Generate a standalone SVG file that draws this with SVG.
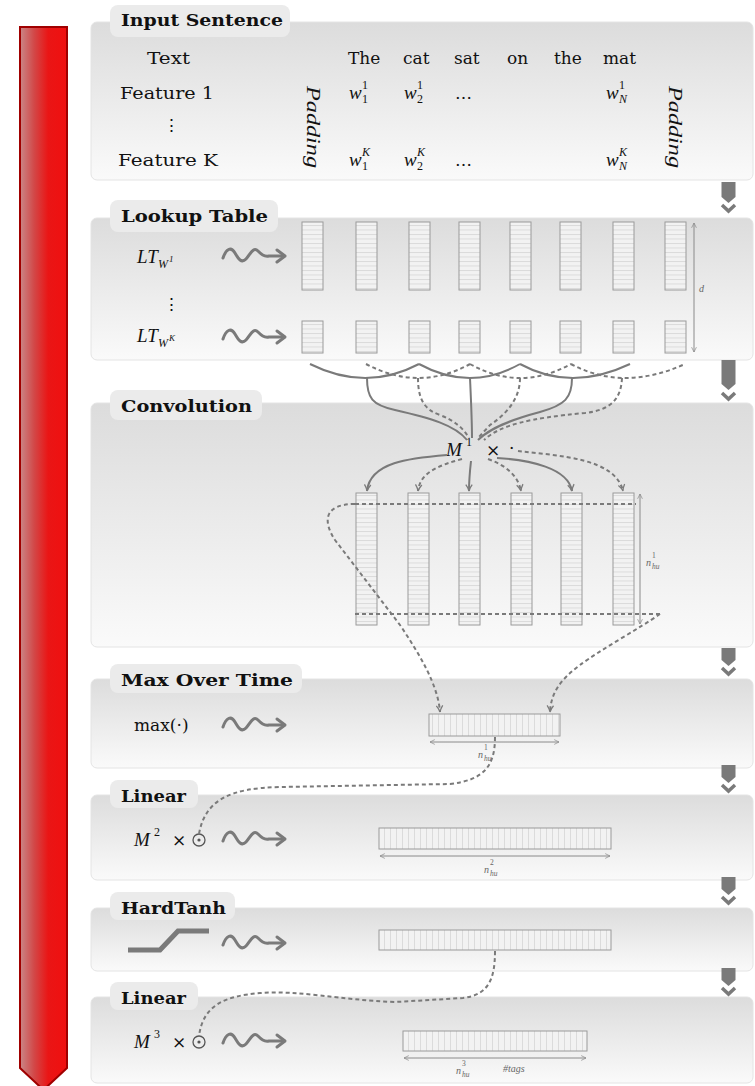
<svg xmlns="http://www.w3.org/2000/svg" width="755" height="1086" viewBox="0 0 755 1086">
<style>
.panel{fill:url(#pg);stroke:#e4e4e4;stroke-width:1}
.tab{fill:#ebebeb}
.lbl{font-family:"DejaVu Serif",serif;font-weight:bold;font-size:16px;fill:#111}
.t{font-family:"DejaVu Serif",serif;font-size:17px;fill:#111}
.m{font-family:"Liberation Serif",serif;font-style:italic;font-size:19px;fill:#111}
.s{font-family:"Liberation Serif",serif;font-style:italic;font-size:12px;fill:#111}
.n{font-family:"Liberation Serif",serif;font-size:12px;fill:#111}
.ss{font-family:"Liberation Serif",serif;font-style:italic;font-size:9px;fill:#111}
.dim{font-family:"Liberation Serif",serif;font-style:italic;font-size:10px;fill:#666}
.dims{font-family:"Liberation Serif",serif;font-style:italic;font-size:7.5px;fill:#666}
.dimn{font-family:"Liberation Serif",serif;font-size:7.5px;fill:#666}
.colv{fill:url(#hs);stroke:#9a9a9a;stroke-width:1}
.colh{fill:url(#vs);stroke:#9a9a9a;stroke-width:1}
.sol{fill:none;stroke:#7a7a7a;stroke-width:2}
.dsh{fill:none;stroke:#7a7a7a;stroke-width:2;stroke-dasharray:4 3}
.dline{fill:none;stroke:#7a7a7a;stroke-width:2;stroke-dasharray:4 3}
.dimln{fill:none;stroke:#8a8a8a;stroke-width:1}
.snake{fill:none;stroke:#7a7a7a;stroke-width:3;stroke-linecap:round;stroke-linejoin:round}
.dn{fill:#7a7a7a}
.chev{fill:none;stroke:#7a7a7a;stroke-width:3.5}
</style>
<defs>
<linearGradient id="pg" x1="0" y1="0" x2="0" y2="1">
<stop offset="0" stop-color="#dcdcdc"/>
<stop offset="1" stop-color="#fafafa"/>
</linearGradient>
<linearGradient id="rg" x1="0" y1="0" x2="1" y2="0">
<stop offset="0" stop-color="#c98888"/>
<stop offset="0.3" stop-color="#d24848"/>
<stop offset="0.6" stop-color="#ea1515"/>
<stop offset="1" stop-color="#f01010"/>
</linearGradient>
<pattern id="hs" patternUnits="userSpaceOnUse" width="20" height="4.5">
<rect width="20" height="4.5" fill="#f2f2f2"/>
<line x1="0" y1="0.5" x2="20" y2="0.5" stroke="#d6d6d6" stroke-width="0.8"/>
</pattern>
<pattern id="vs" patternUnits="userSpaceOnUse" width="6" height="20">
<rect width="6" height="20" fill="#f2f2f2"/>
<line x1="0.5" y1="0" x2="0.5" y2="20" stroke="#d6d6d6" stroke-width="0.8"/>
</pattern>
<marker id="ah" viewBox="0 0 10 10" refX="9" refY="5" markerWidth="8" markerHeight="8" orient="auto" markerUnits="userSpaceOnUse">
<path d="M1,1 Q5,4 9,5 Q5,6 1,9" fill="none" stroke="#7a7a7a" stroke-width="1.6"/>
</marker>
<marker id="ahs" viewBox="0 0 10 10" refX="9" refY="5" markerWidth="6" markerHeight="6" orient="auto-start-reverse" markerUnits="userSpaceOnUse">
<path d="M1,1 L9,5 L1,9" fill="none" stroke="#8a8a8a" stroke-width="1.2"/>
</marker>
<g id="snk">
<path class="snake" d="M0,3 C3,-6 8,-9 12,-2 C15,3 18,9 23,4 C27,0 30,-9 35,-4 C38,-1 41,2 46,1 L61,1"/>
<path class="snake" d="M54,-5 L62,1 L54,7"/>
</g>
</defs>

<g id="pipeline-arrow">
<polygon points="20,27 67,27 67,1068 43.5,1090 20,1068" fill="url(#rg)" stroke="#a00000" stroke-width="2"/>
</g>

<g id="input-sentence">
<rect class="panel" x="91" y="22" width="662" height="158" rx="6"/>
<rect class="tab" x="110" y="5" width="180" height="32" rx="8"/>
<text class="lbl" x="121" y="26" textLength="162" lengthAdjust="spacingAndGlyphs">Input Sentence</text>
<text class="t" x="147" y="64" textLength="43" lengthAdjust="spacingAndGlyphs">Text</text>
<text class="t" x="348" y="64">The</text>
<text class="t" x="403" y="64">cat</text>
<text class="t" x="454" y="64">sat</text>
<text class="t" x="507" y="64">on</text>
<text class="t" x="554" y="64">the</text>
<text class="t" x="603" y="64">mat</text>
<text class="t" x="120" y="99" textLength="94" lengthAdjust="spacingAndGlyphs">Feature 1</text>
<text class="t" x="163" y="131">⋮</text>
<text class="t" x="118" y="166" textLength="100" lengthAdjust="spacingAndGlyphs">Feature K</text>
<text class="m" x="349" y="99">w</text><text class="n" x="362" y="89">1</text><text class="n" x="362" y="103">1</text>
<text class="m" x="404" y="99">w</text><text class="n" x="417" y="89">1</text><text class="n" x="417" y="103">2</text>
<text class="t" x="455" y="99">…</text>
<text class="m" x="606" y="99">w</text><text class="n" x="619" y="89">1</text><text class="s" x="619" y="103">N</text>
<text class="m" x="349" y="166">w</text><text class="s" x="362" y="156">K</text><text class="n" x="362" y="170">1</text>
<text class="m" x="404" y="166">w</text><text class="s" x="417" y="156">K</text><text class="n" x="417" y="170">2</text>
<text class="t" x="455" y="166">…</text>
<text class="m" x="606" y="166">w</text><text class="s" x="619" y="156">K</text><text class="s" x="619" y="170">N</text>
<text class="m" transform="translate(307,86) rotate(90)" textLength="82" lengthAdjust="spacingAndGlyphs">Padding</text>
<text class="m" transform="translate(669,86) rotate(90)" textLength="82" lengthAdjust="spacingAndGlyphs">Padding</text>
</g>

<g id="lookup-table">
<rect class="panel" x="91" y="218" width="662" height="142" rx="6"/>
<rect class="tab" x="110" y="200" width="168" height="32" rx="8"/>
<text class="lbl" x="121" y="222" textLength="147" lengthAdjust="spacingAndGlyphs">Lookup Table</text>
<text class="m" x="137" y="263">LT</text><text class="s" x="158" y="268">W</text><text class="ss" x="169" y="262" font-style="normal">1</text>
<use href="#snk" x="223" y="255"/>
<text class="t" x="163" y="310">⋮</text>
<text class="m" x="137" y="342">LT</text><text class="s" x="158" y="347">W</text><text class="ss" x="169" y="341">K</text>
<use href="#snk" x="223" y="336"/>
<rect class="colv" x="302" y="222" width="21" height="68"/>
<rect class="colv" x="356" y="222" width="21" height="68"/>
<rect class="colv" x="409" y="222" width="21" height="68"/>
<rect class="colv" x="459" y="222" width="21" height="68"/>
<rect class="colv" x="510" y="222" width="21" height="68"/>
<rect class="colv" x="560" y="222" width="21" height="68"/>
<rect class="colv" x="613" y="222" width="21" height="68"/>
<rect class="colv" x="665" y="222" width="21" height="68"/>
<rect class="colv" x="302" y="321" width="21" height="32"/>
<rect class="colv" x="356" y="321" width="21" height="32"/>
<rect class="colv" x="409" y="321" width="21" height="32"/>
<rect class="colv" x="459" y="321" width="21" height="32"/>
<rect class="colv" x="510" y="321" width="21" height="32"/>
<rect class="colv" x="560" y="321" width="21" height="32"/>
<rect class="colv" x="613" y="321" width="21" height="32"/>
<rect class="colv" x="665" y="321" width="21" height="32"/>
<line class="dimln" x1="694" y1="223" x2="694" y2="352" marker-start="url(#ahs)" marker-end="url(#ahs)"/>
<text class="dim" x="699" y="292">d</text>
</g>

<g id="convolution">
<rect class="panel" x="91" y="403" width="662" height="244" rx="6"/>
<rect class="tab" x="110" y="390" width="152" height="30" rx="8"/>
<text class="lbl" x="121" y="412" textLength="131" lengthAdjust="spacingAndGlyphs">Convolution</text>
<text class="m" x="446" y="456" font-size="21">M</text><text class="n" x="466" y="446" font-size="13">1</text>
<text class="t" x="486" y="456">×</text>
<text class="t" x="509" y="454">·</text>
<rect class="colv" x="356" y="493" width="21" height="132"/>
<rect class="colv" x="408" y="493" width="21" height="132"/>
<rect class="colv" x="459" y="493" width="21" height="132"/>
<rect class="colv" x="511" y="493" width="21" height="132"/>
<rect class="colv" x="561" y="493" width="21" height="132"/>
<rect class="colv" x="613" y="493" width="21" height="132"/>
<line class="dimln" x1="640" y1="494" x2="640" y2="624" marker-start="url(#ahs)" marker-end="url(#ahs)"/>
<text class="dim" x="646" y="566">n</text><text class="dimn" x="652" y="558">1</text><text class="dims" x="652" y="569">hu</text>
</g>

<g id="max-over-time">
<rect class="panel" x="91" y="679" width="662" height="89" rx="6"/>
<rect class="tab" x="110" y="664" width="192" height="29" rx="8"/>
<text class="lbl" x="121" y="686" textLength="172" lengthAdjust="spacingAndGlyphs">Max Over Time</text>
<text class="t" x="134" y="731">max(·)</text>
<use href="#snk" x="223" y="724"/>
<rect class="colh" x="429" y="714" width="131" height="22"/>
<line class="dimln" x1="430" y1="742" x2="559" y2="742" marker-start="url(#ahs)" marker-end="url(#ahs)"/>
<text class="dim" x="478" y="758">n</text><text class="dimn" x="484" y="750">1</text><text class="dims" x="484" y="761">hu</text>
</g>

<g id="linear-1">
<rect class="panel" x="91" y="795" width="662" height="85" rx="6"/>
<rect class="tab" x="110" y="780" width="88" height="28" rx="8"/>
<text class="lbl" x="121" y="802" textLength="65" lengthAdjust="spacingAndGlyphs">Linear</text>
<text class="m" x="134" y="846" font-size="21">M</text><text class="n" x="154" y="836" font-size="13">2</text>
<text class="t" x="172" y="846" font-size="15">×</text>
<circle cx="199" cy="840" r="6" fill="none" stroke="#555" stroke-width="1.3"/>
<circle cx="199" cy="840" r="1.6" fill="#555"/>
<use href="#snk" x="223" y="838"/>
<rect class="colh" x="379" y="828" width="232" height="21"/>
<line class="dimln" x1="380" y1="856" x2="610" y2="856" marker-start="url(#ahs)" marker-end="url(#ahs)"/>
<text class="dim" x="484" y="873">n</text><text class="dimn" x="490" y="865">2</text><text class="dims" x="490" y="876">hu</text>
</g>

<g id="hardtanh">
<rect class="panel" x="91" y="908" width="662" height="63" rx="6"/>
<rect class="tab" x="110" y="892" width="125" height="28" rx="8"/>
<text class="lbl" x="121" y="914" textLength="105" lengthAdjust="spacingAndGlyphs">HardTanh</text>
<polyline points="128,950 160,950 178,931 209,931" fill="none" stroke="#7a7a7a" stroke-width="5"/>
<use href="#snk" x="223" y="942"/>
<rect class="colh" x="379" y="930" width="232" height="20"/>
</g>

<g id="linear-2">
<rect class="panel" x="91" y="997" width="662" height="86" rx="6"/>
<rect class="tab" x="110" y="982" width="88" height="28" rx="8"/>
<text class="lbl" x="121" y="1004" textLength="65" lengthAdjust="spacingAndGlyphs">Linear</text>
<text class="m" x="134" y="1048" font-size="21">M</text><text class="n" x="154" y="1038" font-size="13">3</text>
<text class="t" x="172" y="1048" font-size="15">×</text>
<circle cx="199" cy="1042" r="6" fill="none" stroke="#555" stroke-width="1.3"/>
<circle cx="199" cy="1042" r="1.6" fill="#555"/>
<use href="#snk" x="223" y="1040"/>
<rect class="colh" x="403" y="1031" width="184" height="20"/>
<line class="dimln" x1="404" y1="1058" x2="586" y2="1058" marker-start="url(#ahs)" marker-end="url(#ahs)"/>
<text class="dim" x="456" y="1074">n</text><text class="dimn" x="462" y="1066">3</text><text class="dims" x="462" y="1077">hu</text>
<text class="dim" x="503" y="1072">#tags</text>
</g>

<g id="flow-arrows">
<path class="dn" d="M721.5,182 H735.5 V197 L728.5,203 L721.5,197 Z"/>
<path class="chev" d="M722,205 L728.5,211 L735,205"/>
<path class="dn" d="M721.5,360 H735.5 V384 L728.5,390 L721.5,384 Z"/>
<path class="chev" d="M722,393 L728.5,399 L735,393"/>
<path class="dn" d="M721.5,648 H735.5 V660 L728.5,666 L721.5,660 Z"/>
<path class="chev" d="M722,668 L728.5,674 L735,668"/>
<path class="dn" d="M721.5,765 H735.5 V777 L728.5,783 L721.5,777 Z"/>
<path class="chev" d="M722,785 L728.5,791 L735,785"/>
<path class="dn" d="M721.5,877 H735.5 V889 L728.5,895 L721.5,889 Z"/>
<path class="chev" d="M722,897 L728.5,903 L735,897"/>
<path class="dn" d="M721.5,968 H735.5 V980 L728.5,986 L721.5,980 Z"/>
<path class="chev" d="M722,988 L728.5,994 L735,988"/>
</g>

<g id="connectors">
<path class="sol" d="M310,364 Q366,392 419,364"/>
<path class="sol" d="M419,364 Q470,392 520,364"/>
<path class="sol" d="M520,364 Q571,392 630,364"/>
<path class="dsh" d="M366,364 Q419,392 470,364"/>
<path class="dsh" d="M470,364 Q520,392 571,364"/>
<path class="dsh" d="M571,364 Q623,392 685,364"/>
<path class="sol" d="M367,378 C367,398 372,405 395,410 C430,418 455,425 467,440"/>
<path class="dsh" d="M418,378 C418,400 425,410 440,415 C455,421 463,428 469,438"/>
<path class="sol" d="M470,378 C471,400 472,420 472,438"/>
<path class="dsh" d="M520,378 C520,400 505,415 490,425 L478,438"/>
<path class="sol" d="M572,378 C572,398 565,405 540,412 C510,420 490,428 478,440"/>
<path class="dsh" d="M622,378 C621,400 610,410 585,413 C530,418 500,425 484,440"/>
<path class="sol" d="M447,455 C410,458 370,462 367,491" marker-end="url(#ah)"/>
<path class="dsh" d="M462,459 C440,465 420,472 418,491" marker-end="url(#ah)"/>
<path class="sol" d="M471,461 C470,470 469,480 469,491" marker-end="url(#ah)"/>
<path class="dsh" d="M488,459 C505,465 518,475 521,491" marker-end="url(#ah)"/>
<path class="sol" d="M497,458 C530,460 568,468 572,491" marker-end="url(#ah)"/>
<path class="dsh" d="M518,451 C560,456 615,458 623,491" marker-end="url(#ah)"/>
<line class="dline" x1="355" y1="504" x2="636" y2="504"/>
<line class="dline" x1="355" y1="614" x2="660" y2="614"/>
<path class="dsh" d="M355,504 C325,504 322,520 335,540 L400,625 C420,655 438,685 440,712" marker-end="url(#ah)"/>
<path class="dsh" d="M660,614 C640,628 600,650 580,665 C560,680 551,693 550,712" marker-end="url(#ah)"/>
<path class="dsh" d="M495,737 C495,765 485,780 450,784 L280,787 C230,788 205,800 199,834"/>
<path class="dsh" d="M495,951 C495,980 488,995 463,998 L395,1002 C340,1000 300,990 260,993 C225,996 203,1005 199,1036"/>
</g>
</svg>
